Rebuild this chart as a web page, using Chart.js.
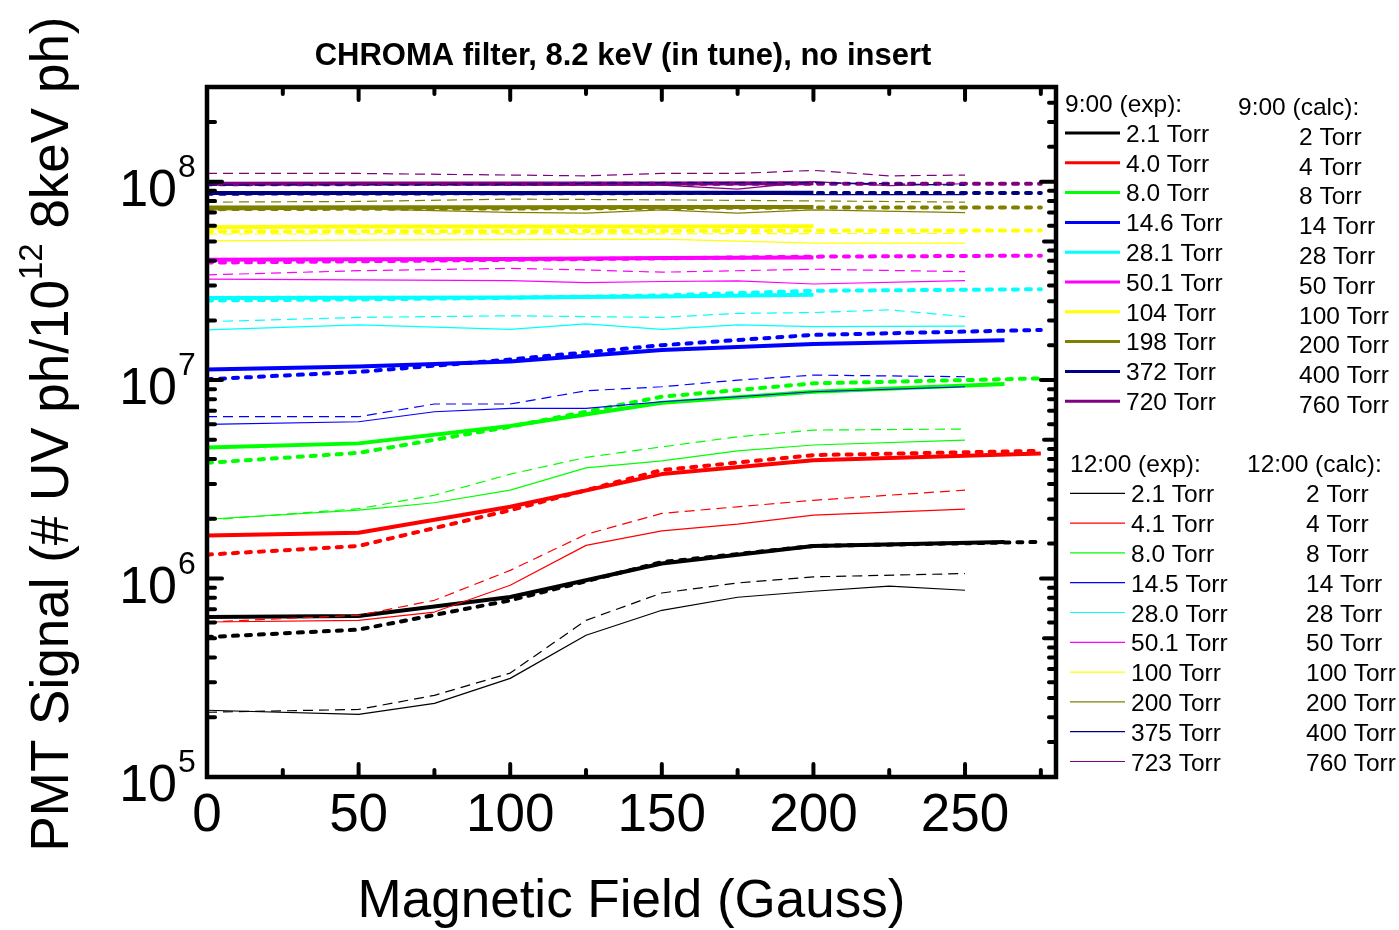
<!DOCTYPE html>
<html lang="en">
<head>
<meta charset="UTF-8">
<title>CHROMA filter, 8.2 keV (in tune), no insert</title>
<style>
  html, body { margin: 0; padding: 0; background: #fff; }
  #wrap { width: 1399px; height: 930px; }
</style>
<script src="https://cdn.jsdelivr.net/npm/chart.js"></script>
</head>
<body>
<div id="wrap"><canvas id="pmtChart" width="1399" height="930"></canvas></div>
<script>
// legend texts and colours (one colour per pressure row)
const exp9Labels  = ['2.1 Torr', '4.0 Torr', '8.0 Torr', '14.6 Torr', '28.1 Torr', '50.1 Torr', '104 Torr', '198 Torr', '372 Torr', '720 Torr'];
const calc9Labels = ['2 Torr', '4 Torr', '8 Torr', '14 Torr', '28 Torr', '50 Torr', '100 Torr', '200 Torr', '400 Torr', '760 Torr'];
const exp12Labels = ['2.1 Torr', '4.1 Torr', '8.0 Torr', '14.5 Torr', '28.0 Torr', '50.1 Torr', '100 Torr', '200 Torr', '375 Torr', '723 Torr'];
const calc12Labels = ['2 Torr', '4 Torr', '8 Torr', '14 Torr', '28 Torr', '50 Torr', '100 Torr', '200 Torr', '400 Torr', '760 Torr'];
const pressureColors = ['#000000', '#ff0000', '#00ff00', '#0000ff', '#00ffff', '#ff00ff', '#ffff00', '#808000', '#000080', '#800080'];

// 9:00 measured (thick solid)
const exp9Field = [
  [0, 50, 100, 150, 200, 263],
  [0, 50, 100, 150, 200, 275],
  [0, 50, 100, 150, 200, 263],
  [0, 50, 100, 150, 200, 263],
  [0, 50, 100, 150, 200],
  [0, 50, 100, 150, 200],
  [0, 50, 100, 150, 200],
  [0, 50, 100, 150, 200],
  [0, 50, 100, 150, 200],
  [0, 50, 100, 150, 200]
];
const exp9Signal = [
  [6.40e5, 6.48e5, 8.08e5, 1.19e6, 1.46e6, 1.53e6],
  [1.65e6, 1.70e6, 2.30e6, 3.36e6, 3.95e6, 4.27e6],
  [4.58e6, 4.80e6, 5.87e6, 7.69e6, 8.74e6, 9.55e6],
  [1.13e7, 1.17e7, 1.24e7, 1.42e7, 1.52e7, 1.59e7],
  [2.59e7, 2.60e7, 2.61e7, 2.64e7, 2.69e7],
  [4.04e7, 4.06e7, 4.08e7, 4.12e7, 4.15e7],
  [5.90e7, 5.94e7, 5.95e7, 5.95e7, 5.97e7],
  [7.41e7, 7.43e7, 7.43e7, 7.45e7, 7.46e7],
  [8.76e7, 8.78e7, 8.78e7, 8.80e7, 8.80e7],
  [9.76e7, 9.78e7, 9.78e7, 9.80e7, 9.82e7]
];

// 9:00 calculated (thick dotted)
const calc9Field = [
  [0, 50, 100, 150, 200, 275],
  [0, 50, 100, 150, 200, 275],
  [0, 50, 100, 150, 200, 275],
  [0, 50, 100, 150, 200, 275],
  [0, 50, 100, 150, 200, 275],
  [0, 50, 100, 150, 200, 275],
  [0, 50, 100, 150, 200, 275],
  [0, 50, 100, 150, 200, 275],
  [0, 50, 100, 150, 200, 275],
  [0, 50, 100, 150, 200, 275]
];
const calc9Signal = [
  [5.07e5, 5.53e5, 7.77e5, 1.21e6, 1.46e6, 1.53e6],
  [1.32e6, 1.46e6, 2.21e6, 3.52e6, 4.19e6, 4.40e6],
  [3.83e6, 4.30e6, 5.82e6, 8.25e6, 9.63e6, 1.02e7],
  [1.01e7, 1.10e7, 1.27e7, 1.50e7, 1.69e7, 1.79e7],
  [2.52e7, 2.55e7, 2.60e7, 2.67e7, 2.82e7, 2.87e7],
  [3.91e7, 3.97e7, 4.04e7, 4.11e7, 4.19e7, 4.24e7],
  [5.61e7, 5.62e7, 5.63e7, 5.65e7, 5.67e7, 5.67e7],
  [7.27e7, 7.30e7, 7.33e7, 7.37e7, 7.41e7, 7.41e7],
  [8.70e7, 8.72e7, 8.74e7, 8.76e7, 8.76e7, 8.76e7],
  [9.70e7, 9.72e7, 9.74e7, 9.76e7, 9.76e7, 9.76e7]
];

// 12:00 measured (thin solid)
const exp12Field = [
  [0, 50, 75, 100, 125, 150, 175, 200, 225, 250],
  [0, 50, 75, 100, 125, 150, 175, 200, 250],
  [0, 50, 75, 100, 125, 150, 175, 200, 250],
  [0, 50, 75, 100, 125, 150, 200, 250],
  [0, 50, 75, 100, 125, 150, 175, 200, 250],
  [0, 50, 100, 125, 150, 175, 200, 250],
  [0, 50, 100, 150, 200, 250],
  [0, 50, 100, 125, 150, 175, 200, 250],
  [0, 50, 100, 150, 200, 250],
  [0, 50, 100, 150, 175, 200, 225, 250]
];
const exp12Signal = [
  [2.17e5, 2.07e5, 2.35e5, 3.14e5, 5.18e5, 6.92e5, 8.05e5, 8.63e5, 9.15e5, 8.73e5],
  [6.04e5, 6.16e5, 6.78e5, 9.25e5, 1.47e6, 1.74e6, 1.88e6, 2.09e6, 2.24e6],
  [1.99e6, 2.21e6, 2.41e6, 2.79e6, 3.61e6, 3.92e6, 4.40e6, 4.71e6, 4.99e6],
  [5.98e6, 6.17e6, 6.93e6, 7.21e6, 7.21e6, 7.78e6, 8.74e6, 9.26e6],
  [1.79e7, 1.90e7, 1.85e7, 1.80e7, 1.92e7, 1.80e7, 1.90e7, 1.86e7, 1.87e7],
  [3.23e7, 3.20e7, 3.17e7, 3.10e7, 3.14e7, 3.16e7, 3.05e7, 3.17e7],
  [5.03e7, 5.08e7, 5.10e7, 5.13e7, 4.90e7, 4.90e7],
  [7.21e7, 7.30e7, 7.00e7, 6.95e7, 7.21e7, 6.94e7, 7.21e7, 6.99e7],
  [8.70e7, 8.70e7, 8.60e7, 8.70e7, 8.60e7, 8.60e7],
  [9.70e7, 9.70e7, 9.60e7, 9.60e7, 9.18e7, 1.00e8, 9.55e7, 9.76e7]
];

// 12:00 calculated (thin dashed)
const calc12Field = [
  [0, 50, 75, 100, 125, 150, 175, 200, 250],
  [0, 50, 75, 100, 125, 150, 175, 200, 250],
  [0, 50, 75, 100, 125, 150, 175, 200, 250],
  [0, 50, 75, 100, 125, 150, 175, 200, 250],
  [0, 50, 100, 125, 150, 175, 200, 225, 250],
  [0, 50, 100, 125, 150, 200, 250],
  [0, 50, 100, 150, 200, 250],
  [0, 50, 100, 150, 200, 250],
  [0, 50, 100, 150, 200, 250],
  [0, 50, 100, 125, 150, 175, 200, 225, 250]
];
const calc12Signal = [
  [2.12e5, 2.19e5, 2.58e5, 3.34e5, 6.16e5, 8.46e5, 9.50e5, 1.02e6, 1.06e6],
  [6.04e5, 6.53e5, 7.77e5, 1.10e6, 1.67e6, 2.13e6, 2.30e6, 2.48e6, 2.79e6],
  [1.97e6, 2.25e6, 2.63e6, 3.36e6, 4.08e6, 4.61e6, 5.18e6, 5.60e6, 5.67e6],
  [6.54e6, 6.54e6, 7.58e6, 7.58e6, 8.84e6, 9.26e6, 1.00e7, 1.06e7, 1.04e7],
  [1.97e7, 2.07e7, 2.11e7, 2.09e7, 2.07e7, 2.17e7, 2.19e7, 2.26e7, 2.09e7],
  [3.39e7, 3.56e7, 3.66e7, 3.59e7, 3.50e7, 3.62e7, 3.52e7],
  [5.45e7, 5.45e7, 5.46e7, 5.46e7, 5.48e7, 5.48e7],
  [7.89e7, 7.95e7, 8.17e7, 8.10e7, 8.00e7, 7.89e7],
  [9.60e7, 9.65e7, 9.70e7, 9.90e7, 9.90e7, 9.60e7],
  [1.10e8, 1.10e8, 1.08e8, 1.07e8, 1.10e8, 1.10e8, 1.14e8, 1.07e8, 1.08e8]
];

// axis ticks
const xMin = 0, xMax = 280;
const yMin = 1e5, yMax = 3e8;
const xMajorTicks = [0, 50, 100, 150, 200, 250];
const xMinorTicks = [25, 75, 125, 175, 225, 275];
const yDecades = [1e5, 1e6, 1e7, 1e8];
const leftMinorSteps = [2, 3, 4, 5, 6, 7, 8, 9];
const rightMinorSteps = [1.5, 2, 2.5, 3, 3.5, 4, 4.5, 5, 6, 7, 8, 9];

const FONT = "'Liberation Sans', Arial, Helvetica, sans-serif";

const lineStyles = {
  exp9:  { width: 4,   dash: [],     cap: 'butt',  order: 4 },
  calc9: { width: 4,   dash: [5, 8], cap: 'round', order: 3 },
  exp12: { width: 1.2, dash: [],     cap: 'butt',  order: 2 },
  calc12:{ width: 1.2, dash: [10, 6], cap: 'butt', order: 1 }
};

function makeSets(fields, signals, labels, style, prefix) {
  return fields.map((xs, i) => ({
    label: prefix + ' ' + labels[i],
    data: xs.map((x, k) => ({ x: x, y: signals[i][k] })),
    borderColor: pressureColors[i],
    backgroundColor: pressureColors[i],
    borderWidth: style.width,
    borderDash: style.dash,
    borderCapStyle: style.cap,
    borderJoinStyle: 'round',
    fill: false,
    pointRadius: 0,
    tension: 0,
    order: style.order
  }));
}

const datasets = [].concat(
  makeSets(exp9Field, exp9Signal, exp9Labels, lineStyles.exp9, '9:00 (exp)'),
  makeSets(calc9Field, calc9Signal, calc9Labels, lineStyles.calc9, '9:00 (calc)'),
  makeSets(exp12Field, exp12Signal, exp12Labels, lineStyles.exp12, '12:00 (exp)'),
  makeSets(calc12Field, calc12Signal, calc12Labels, lineStyles.calc12, '12:00 (calc)')
);

// frame with inward ticks, y labels, titles and legend
const originPlugin = {
  id: 'originPlugin',
  afterDraw(chart) {
    const ctx = chart.ctx;
    const a = chart.chartArea;
    const xs = chart.scales.x, ys = chart.scales.y;
    const seg = (x1, y1, x2, y2) => { ctx.beginPath(); ctx.moveTo(x1, y1); ctx.lineTo(x2, y2); ctx.stroke(); };

    ctx.save();
    ctx.strokeStyle = '#000';
    ctx.fillStyle = '#000';
    ctx.lineCap = 'round';
    ctx.lineWidth = 4;

    xMajorTicks.forEach(v => {
      const px = xs.getPixelForValue(v);
      seg(px, a.bottom, px, a.bottom - 13);
      seg(px, a.top, px, a.top + 13);
    });
    xMinorTicks.forEach(v => {
      const px = xs.getPixelForValue(v);
      seg(px, a.bottom, px, a.bottom - 7);
      seg(px, a.top, px, a.top + 7);
    });
    yDecades.forEach(d => {
      const py = ys.getPixelForValue(d);
      seg(a.left, py, a.left + 15, py);
      seg(a.right, py, a.right - 15, py);
      leftMinorSteps.forEach(m => {
        if (d * m >= yMax) return;
        const p = ys.getPixelForValue(d * m);
        seg(a.left, p, a.left + 8, p);
      });
      rightMinorSteps.forEach(m => {
        if (d * m >= yMax) return;
        const p = ys.getPixelForValue(d * m);
        seg(a.right, p, a.right - (m === 5 ? 12 : 7), p);
      });
    });

    ctx.lineCap = 'butt';
    ctx.lineWidth = 4.5;
    ctx.strokeRect(a.left, a.top, a.right - a.left, a.bottom - a.top);

    // y tick labels 10^n
    ctx.textBaseline = 'alphabetic';
    yDecades.forEach(d => {
      const py = ys.getPixelForValue(d);
      ctx.font = '52px ' + FONT;
      ctx.textAlign = 'right';
      ctx.fillText('10', 177, py + 24);
      ctx.font = '32px ' + FONT;
      ctx.textAlign = 'left';
      ctx.fillText(String(Math.round(Math.log10(d))), 178, py - 5);
    });

    // y axis title with superscript
    const part1 = 'PMT Signal (# UV ph/10', sup = '12', part2 = ' 8keV ph)';
    ctx.font = '53px ' + FONT;
    const w1 = ctx.measureText(part1).width, w3 = ctx.measureText(part2).width;
    ctx.font = '33px ' + FONT;
    const w2 = ctx.measureText(sup).width;
    const total = w1 + w2 + w3;
    ctx.save();
    ctx.translate(68, 434 + total / 2);
    ctx.rotate(-Math.PI / 2);
    ctx.textAlign = 'left';
    ctx.font = '53px ' + FONT;
    ctx.fillText(part1, 0, 0);
    ctx.font = '33px ' + FONT;
    ctx.fillText(sup, w1, -26);
    ctx.font = '53px ' + FONT;
    ctx.fillText(part2, w1 + w2, 0);
    ctx.restore();

    // chart title
    ctx.font = 'bold 31px ' + FONT;
    ctx.textAlign = 'center';
    ctx.fillText('CHROMA filter, 8.2 keV (in tune), no insert', 623, 65);

    // legend
    ctx.font = '24.5px ' + FONT;
    ctx.textAlign = 'left';
    ctx.fillText('9:00 (exp):', 1065, 112);
    ctx.fillText('9:00 (calc):', 1238, 115);
    exp9Labels.forEach((t, i) => {
      const cy = 133 + i * 29.8;
      ctx.strokeStyle = pressureColors[i];
      ctx.lineWidth = 3;
      seg(1065, cy, 1120, cy);
      ctx.fillText(t, 1126, cy + 8.8);
      ctx.fillText(calc9Labels[i], 1299, cy + 11.8);
    });
    ctx.fillText('12:00 (exp):', 1070, 472);
    ctx.fillText('12:00 (calc):', 1247, 472);
    exp12Labels.forEach((t, i) => {
      const cy = 493.3 + i * 29.8;
      ctx.strokeStyle = pressureColors[i];
      ctx.lineWidth = 1.2;
      seg(1070, cy, 1125, cy);
      ctx.fillText(t, 1131, cy + 9);
      ctx.fillText(calc12Labels[i], 1306, cy + 9);
    });
    ctx.restore();
  }
};

const ctx = document.getElementById('pmtChart').getContext('2d');
const pmtChart = new Chart(ctx, {
  type: 'line',
  data: { datasets: datasets },
  options: {
    responsive: false,
    devicePixelRatio: 1,
    animation: false,
    layout: { padding: { top: 87, right: 343, bottom: 0, left: 0 } },
    plugins: {
      legend: { display: false },
      tooltip: { enabled: false }
    },
    scales: {
      x: {
        type: 'linear',
        min: xMin,
        max: xMax,
        grid: { display: false, drawTicks: false },
        border: { display: false },
        afterBuildTicks: s => { s.ticks = xMajorTicks.map(v => ({ value: v })); },
        ticks: {
          autoSkip: false,
          maxRotation: 0,
          padding: 13,
          color: '#000',
          font: { family: FONT, size: 53, lineHeight: 1 },
          callback: v => String(v)
        },
        title: {
          display: true,
          text: 'Magnetic Field (Gauss)',
          color: '#000',
          font: { family: FONT, size: 53, lineHeight: 1 },
          padding: { top: 0, bottom: 1 }
        },
        afterFit: s => { s.height = 153; }
      },
      y: {
        type: 'logarithmic',
        min: yMin,
        max: yMax,
        grid: { display: false, drawTicks: false },
        border: { display: false },
        ticks: { display: false },
        afterFit: s => { s.width = 207; }
      }
    }
  },
  plugins: [originPlugin]
});
</script>
</body>
</html>
